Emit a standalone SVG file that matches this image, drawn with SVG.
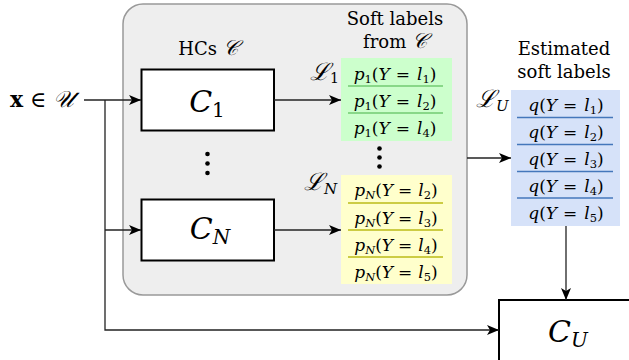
<svg xmlns="http://www.w3.org/2000/svg" width="629" height="360" viewBox="0 0 629 360">
  <style>
    text { font-family: "DejaVu Serif", "Liberation Serif", serif; fill: #000; }
    .it { font-style: italic; }
    .lbl { font-size: 18px; text-anchor: middle; }
    .row { font-size: 17px; text-anchor: middle; }
    .big { font-size: 30px; text-anchor: middle; }
    .sub { font-size: 11.5px; }
    .bigsub { font-size: 20px; }
    .cal { font-size: 24px; }
    .cls { fill: #fff; stroke: #000; stroke-width: 2; }
    .conn { fill: none; stroke: #222; stroke-width: 1.3; }
    .dot { fill: #000; }
  </style>
  <defs>
    <marker id="arr" viewBox="0 0 12 10" refX="12" refY="5" markerWidth="12" markerHeight="10" markerUnits="userSpaceOnUse" orient="auto">
      <path d="M0,0 L12,5 L0,10 L3,5 z" fill="#000"/>
    </marker>
  </defs>

  <!-- container for the hierarchical classifiers -->
  <g id="hcs-group">
    <rect x="123" y="4" width="344" height="291" rx="20" ry="20" fill="#eeeeee" stroke="#999" stroke-width="1.5"/>
    <text class="lbl" x="208" y="55">HCs <tspan class="it" font-size="21">𝒞</tspan></text>
    <text class="lbl" x="395" y="25">Soft labels</text>
    <text class="lbl" x="395" y="48">from <tspan class="it" font-size="21">𝒞</tspan></text>
  </g>

  <!-- input -->
  <g id="input">
    <text x="10" y="107" font-size="22"><tspan font-weight="bold">x</tspan> ∈ <tspan class="it" font-size="23">𝒰</tspan></text>
  </g>

  <!-- classifiers -->
  <g id="c1">
    <rect class="cls" x="141.5" y="69.5" width="132.5" height="61"/>
    <text class="big" x="207" y="112"><tspan class="it">C</tspan><tspan class="bigsub" dy="5">1</tspan></text>
  </g>
  <g id="dots-c">
    <circle class="dot" cx="207.5" cy="154" r="2.3"/>
    <circle class="dot" cx="207.5" cy="163.5" r="2.3"/>
    <circle class="dot" cx="207.5" cy="173" r="2.3"/>
  </g>
  <g id="cn">
    <rect class="cls" x="141.5" y="199.5" width="132.5" height="61"/>
    <text class="big" x="210" y="239"><tspan class="it">C</tspan><tspan class="bigsub it" dy="5">N</tspan></text>
  </g>

  <!-- soft labels of C1 -->
  <g id="l1">
    <text x="310" y="80" class="cal it">ℒ<tspan font-size="14" font-style="normal" dy="3">1</tspan></text>
    <rect x="341" y="58" width="111" height="83" fill="#ccffcc"/>
    <line x1="348" y1="86" x2="443" y2="86" stroke="#88d888" stroke-width="2"/>
    <line x1="348" y1="113" x2="443" y2="113" stroke="#88d888" stroke-width="2"/>
    <text class="row" x="395" y="79.5"><tspan class="it">p</tspan><tspan class="sub" dy="3">1</tspan><tspan dy="-3">(</tspan><tspan class="it">Y</tspan><tspan dx="6">=</tspan><tspan class="it" dx="7">l</tspan><tspan class="sub" dy="3">1</tspan><tspan dy="-3">)</tspan></text>
    <text class="row" x="395" y="106.5"><tspan class="it">p</tspan><tspan class="sub" dy="3">1</tspan><tspan dy="-3">(</tspan><tspan class="it">Y</tspan><tspan dx="6">=</tspan><tspan class="it" dx="7">l</tspan><tspan class="sub" dy="3">2</tspan><tspan dy="-3">)</tspan></text>
    <text class="row" x="395" y="133.5"><tspan class="it">p</tspan><tspan class="sub" dy="3">1</tspan><tspan dy="-3">(</tspan><tspan class="it">Y</tspan><tspan dx="6">=</tspan><tspan class="it" dx="7">l</tspan><tspan class="sub" dy="3">4</tspan><tspan dy="-3">)</tspan></text>
  </g>
  <g id="dots-l">
    <circle class="dot" cx="379.5" cy="148.5" r="2.3"/>
    <circle class="dot" cx="379.5" cy="157.5" r="2.3"/>
    <circle class="dot" cx="379.5" cy="166.5" r="2.3"/>
  </g>

  <!-- soft labels of CN -->
  <g id="ln">
    <text x="304" y="190" class="cal it">ℒ<tspan font-size="15" dy="4">N</tspan></text>
    <rect x="341" y="175" width="111" height="109" fill="#ffffcc"/>
    <line x1="348" y1="203" x2="443" y2="203" stroke="#cccc44" stroke-width="2"/>
    <line x1="348" y1="230" x2="443" y2="230" stroke="#cccc44" stroke-width="2"/>
    <line x1="348" y1="257" x2="443" y2="257" stroke="#cccc44" stroke-width="2"/>
    <text class="row" x="396" y="196"><tspan class="it">p</tspan><tspan class="sub it" dy="3">N</tspan><tspan dy="-3">(</tspan><tspan class="it">Y</tspan><tspan dx="5">=</tspan><tspan class="it" dx="6">l</tspan><tspan class="sub" dy="3">2</tspan><tspan dy="-3">)</tspan></text>
    <text class="row" x="396" y="223.5"><tspan class="it">p</tspan><tspan class="sub it" dy="3">N</tspan><tspan dy="-3">(</tspan><tspan class="it">Y</tspan><tspan dx="5">=</tspan><tspan class="it" dx="6">l</tspan><tspan class="sub" dy="3">3</tspan><tspan dy="-3">)</tspan></text>
    <text class="row" x="396" y="250.5"><tspan class="it">p</tspan><tspan class="sub it" dy="3">N</tspan><tspan dy="-3">(</tspan><tspan class="it">Y</tspan><tspan dx="5">=</tspan><tspan class="it" dx="6">l</tspan><tspan class="sub" dy="3">4</tspan><tspan dy="-3">)</tspan></text>
    <text class="row" x="396" y="277.5"><tspan class="it">p</tspan><tspan class="sub it" dy="3">N</tspan><tspan dy="-3">(</tspan><tspan class="it">Y</tspan><tspan dx="5">=</tspan><tspan class="it" dx="6">l</tspan><tspan class="sub" dy="3">5</tspan><tspan dy="-3">)</tspan></text>
  </g>

  <!-- estimated soft labels -->
  <g id="lu">
    <text class="lbl" x="564" y="55">Estimated</text>
    <text class="lbl" x="564" y="78">soft labels</text>
    <text x="476" y="107" class="cal it">ℒ<tspan font-size="15" dy="4">U</tspan></text>
    <rect x="511" y="90" width="109" height="136" fill="#d6e2f9"/>
    <line x1="517" y1="117.5" x2="613" y2="117.5" stroke="#4477bb" stroke-width="1.6"/>
    <line x1="517" y1="144.5" x2="613" y2="144.5" stroke="#4477bb" stroke-width="1.6"/>
    <line x1="517" y1="171.5" x2="613" y2="171.5" stroke="#4477bb" stroke-width="1.6"/>
    <line x1="517" y1="198" x2="613" y2="198" stroke="#4477bb" stroke-width="1.6"/>
    <text class="row" x="566" y="111"><tspan class="it">q</tspan>(<tspan class="it">Y</tspan><tspan dx="6">=</tspan><tspan class="it" dx="7">l</tspan><tspan class="sub" dy="3">1</tspan><tspan dy="-3">)</tspan></text>
    <text class="row" x="566" y="138"><tspan class="it">q</tspan>(<tspan class="it">Y</tspan><tspan dx="6">=</tspan><tspan class="it" dx="7">l</tspan><tspan class="sub" dy="3">2</tspan><tspan dy="-3">)</tspan></text>
    <text class="row" x="566" y="165"><tspan class="it">q</tspan>(<tspan class="it">Y</tspan><tspan dx="6">=</tspan><tspan class="it" dx="7">l</tspan><tspan class="sub" dy="3">3</tspan><tspan dy="-3">)</tspan></text>
    <text class="row" x="566" y="192"><tspan class="it">q</tspan>(<tspan class="it">Y</tspan><tspan dx="6">=</tspan><tspan class="it" dx="7">l</tspan><tspan class="sub" dy="3">4</tspan><tspan dy="-3">)</tspan></text>
    <text class="row" x="566" y="219"><tspan class="it">q</tspan>(<tspan class="it">Y</tspan><tspan dx="6">=</tspan><tspan class="it" dx="7">l</tspan><tspan class="sub" dy="3">5</tspan><tspan dy="-3">)</tspan></text>
  </g>

  <!-- final classifier -->
  <g id="cu">
    <rect class="cls" x="499" y="300" width="140" height="70"/>
    <text class="big" x="568" y="342"><tspan class="it">C</tspan><tspan class="bigsub it" dy="5">U</tspan></text>
  </g>

  <!-- connectors -->
  <g id="connectors">
    <line class="conn" x1="84" y1="100" x2="141" y2="100" marker-end="url(#arr)"/>
    <polyline class="conn" points="105,100 105,330 499,330" marker-end="url(#arr)"/>
    <line class="conn" x1="105" y1="230" x2="141" y2="230" marker-end="url(#arr)"/>
    <line class="conn" x1="274" y1="100" x2="341" y2="100" marker-end="url(#arr)"/>
    <line class="conn" x1="274" y1="230" x2="341" y2="230" marker-end="url(#arr)"/>
    <line class="conn" x1="467" y1="158" x2="511" y2="158" marker-end="url(#arr)"/>
    <line class="conn" x1="566" y1="226" x2="566" y2="300" marker-end="url(#arr)"/>
  </g>
</svg>
